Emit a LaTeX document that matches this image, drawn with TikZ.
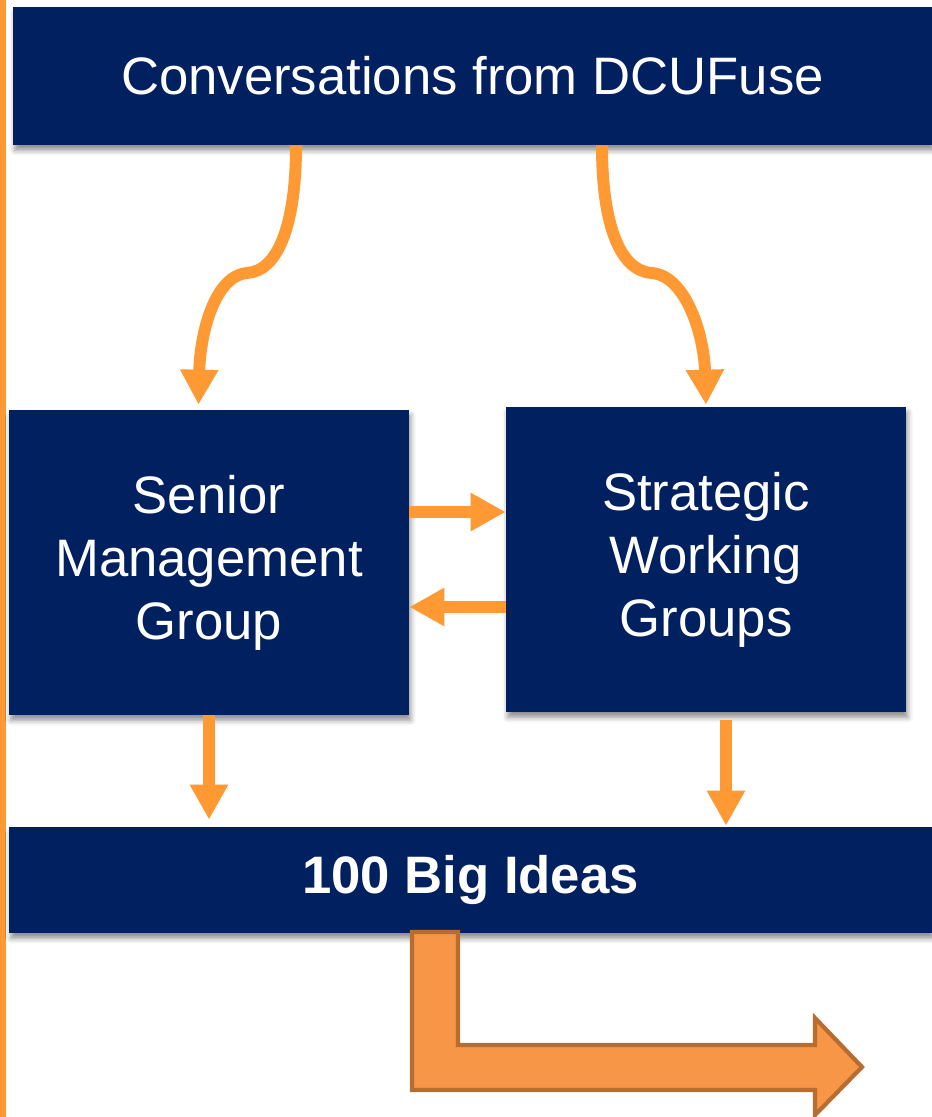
\documentclass[tikz,border=0pt]{standalone}
\usepackage{fontspec}
\setmainfont{Liberation Sans}
\usetikzlibrary{arrows.meta, shadows.blur}

\definecolor{navy}{RGB}{0,32,96}
\definecolor{fuse}{RGB}{255,153,51}
\definecolor{bigfill}{RGB}{247,150,70}
\definecolor{bigline}{RGB}{183,109,49}

\begin{document}
\begin{tikzpicture}[x=0.02cm, y=-0.02cm,
	box/.style={fill=navy, text=white, align=center, inner sep=0pt,
		font=\fontsize{30}{35.8}\selectfont,
		blur shadow={shadow xshift=1pt, shadow yshift=-3pt, shadow blur radius=3pt, shadow opacity=45}},
	flow/.style={draw=fuse, line width=6.8pt, -{Triangle[width=0.72cm, length=0.7cm]}}]
	\useasboundingbox (0,0) rectangle (932,1117);
	\fill[fuse] (0,0) rectangle (6,1117);	%side stripe

	%boxes
	\node[box, minimum width=18.38cm, minimum height=2.76cm] (conv) at (472.5,76) {Conversations from DCUFuse};
	\node[box, minimum width=8cm, minimum height=6.1cm] (smg) at (209,562.5) {Senior\\Management\\Group};
	\node[box, minimum width=8cm, minimum height=6.1cm] (swg) at (706,559.5) {Strategic\\Working\\Groups};
	\node[box, minimum width=18.46cm, minimum height=2.12cm, font=\fontsize{30}{35.8}\selectfont\bfseries] (ideas) at (470.5,880) {100 Big Ideas};

	%curved arrows from the top
	\coordinate (kinkl) at (247,273);
	\coordinate (kinkr) at (652,273);
	\draw[flow] ([xshift=-3.53cm]conv.south) .. controls (296,225) and (278,271) .. (kinkl)
		.. controls (214,276) and (200,335) .. ([xshift=-0.21cm,yshift=0.1cm]smg.north);
	\draw[flow] ([xshift=2.59cm]conv.south) .. controls (602,225) and (620,271) .. (kinkr)
		.. controls (686,276) and (704,335) .. ([xshift=0cm,yshift=0.04cm]swg.north);

	%between the groups
	\draw[flow] ([yshift=1.01cm]smg.east) -- ([yshift=1.01cm]smg.east -| swg.west);
	\draw[flow] ([yshift=-0.95cm]swg.west) -- ([yshift=-0.95cm]swg.west -| smg.east);

	%down to the ideas
	\draw[flow] (smg.south) -- ([yshift=0.14cm]smg.south |- ideas.north);
	\draw[flow] ([xshift=0.4cm,yshift=-0.16cm]swg.south) -- ([xshift=0.4cm,yshift=0.02cm]swg.south |- ideas.north);

	%bent arrow
	\draw[fill=bigfill, draw=bigline, line width=2.4pt, line join=miter]
		(412,932) -- (458,932) -- (458,1045) -- (815,1045) -- (815,1018) -- (862,1067)
		-- (815,1115) -- (815,1090) -- (412,1090) -- cycle;
\end{tikzpicture}
\end{document}
